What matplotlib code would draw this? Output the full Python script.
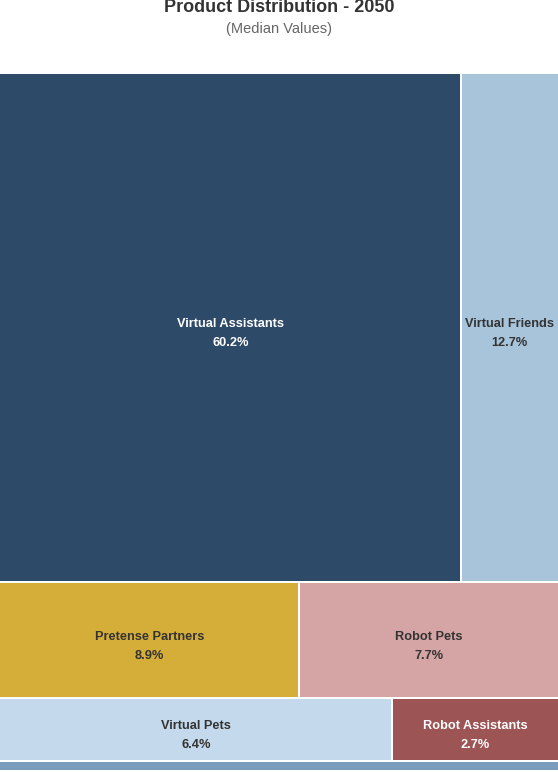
import matplotlib
matplotlib.use("Agg")
import matplotlib.pyplot as plt
from matplotlib.patches import Rectangle

plt.rcParams['font.family'] = ['Liberation Sans', 'DejaVu Sans']

categories = ["Virtual Assistants", "Virtual Friends", "Pretense Partners",
              "Robot Pets", "Virtual Pets", "Robot Assistants", "Other"]
values = [60.2, 12.7, 8.9, 7.7, 6.4, 2.7, 1.4]
rows = [0, 0, 1, 1, 2, 2, 3]
colors = ["#2e4a69", "#a7c4da", "#d5ae39", "#d5a4a4", "#c4d9ec", "#9c5454", "#7b9dbd"]
text_colors = ["white", "#333333", "#333333", "#333333", "#333333", "white", "#333333"]

W, H = 558, 772
fig = plt.figure(figsize=(W / 100, H / 100), dpi=100)
ax = fig.add_axes([0, 0, 1, 1])
ax.set_xlim(0, W)
ax.set_ylim(H, 0)
ax.axis("off")

top, left, width = 73.0, 0.0, 558.0
total = sum(values)
area_h = 698.0
gap = 1.0

y = top
for r in sorted(set(rows)):
    idx = [i for i, rr in enumerate(rows) if rr == r]
    rsum = sum(values[i] for i in idx)
    rh = area_h * rsum / total
    x = left
    for j, i in enumerate(idx):
        w = width * values[i] / rsum
        x0 = x + (gap if j > 0 else 0)
        x1 = x + w - (gap if j < len(idx) - 1 else 0)
        ax.add_patch(Rectangle((x0, y + gap), x1 - x0, rh - 2 * gap,
                               facecolor=colors[i], edgecolor="none"))
        if rh > 30 and w > 60:
            cx, cy = x + w / 2, y + rh / 2
            ax.text(cx, cy - 3, categories[i], ha="center", va="center",
                    fontsize=9.2, fontweight="bold", color=text_colors[i])
            ax.text(cx, cy + 16, f"{values[i]:.1f}%", ha="center", va="center",
                    fontsize=9.2, fontweight="bold", color=text_colors[i])
        x += w
    y += rh

ax.text(W / 2, 8, "Product Distribution - 2050", ha="center", va="center",
        fontsize=13, fontweight="bold", color="#333333")
ax.text(W / 2, 29, "(Median Values)", ha="center", va="center",
        fontsize=10.5, color="#666666")

fig.savefig("out.png", dpi=100)
